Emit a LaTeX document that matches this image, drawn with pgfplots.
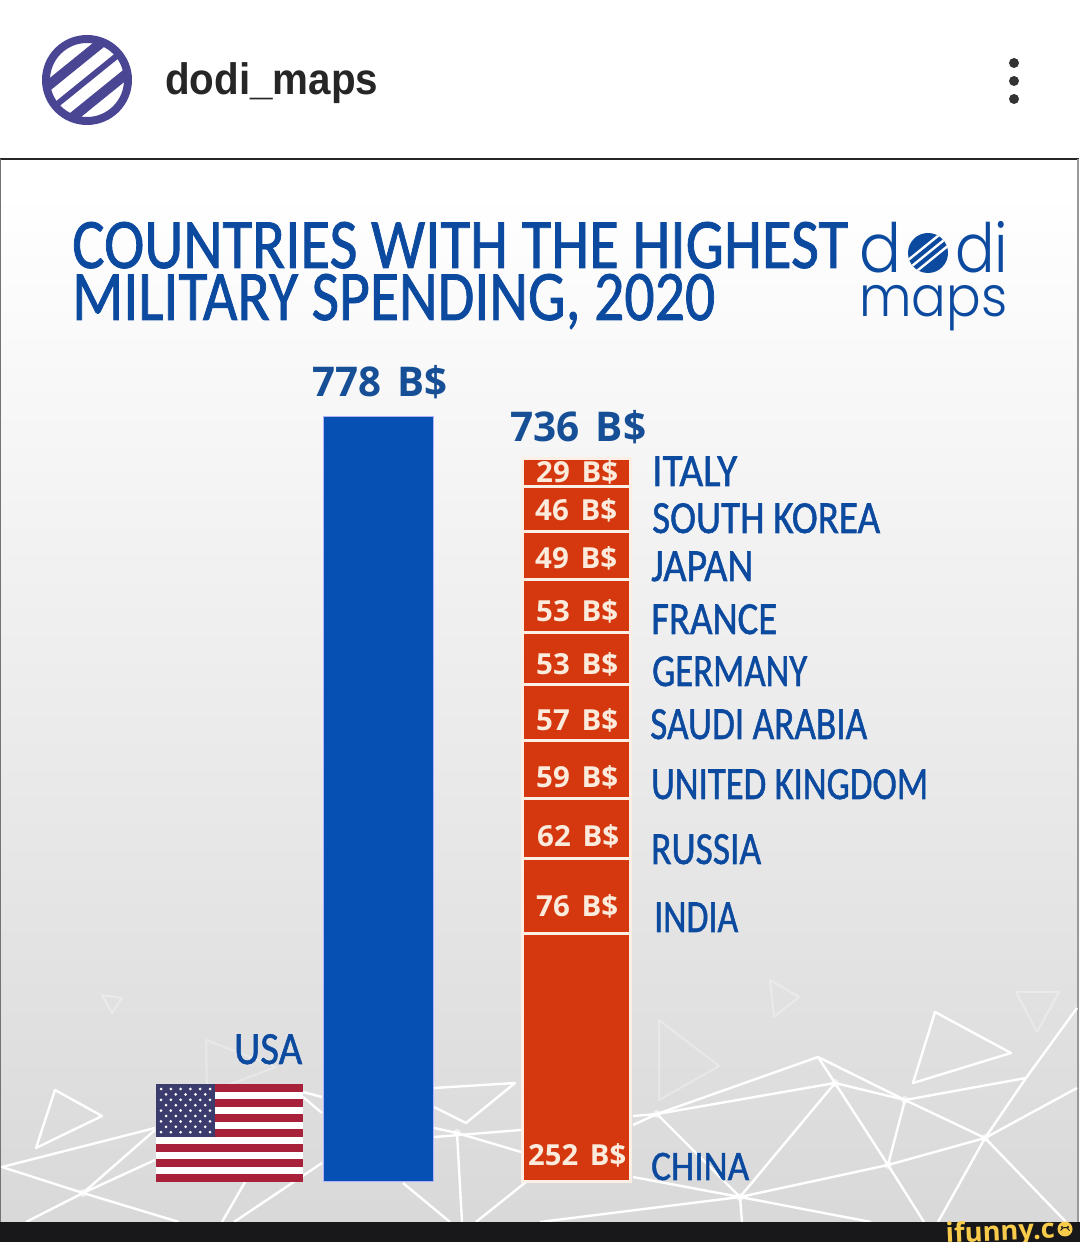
\documentclass[border=0pt]{standalone}
\usepackage{fontspec}
\usepackage{graphicx}
\usepackage{pgfplots}
\pgfplotsset{compat=1.18}
\usetikzlibrary{calc}
\setmainfont[RawFeature={embolden=1.2}]{Carlito}
\newfontfamily\valfont{Open Sans}
\newfontfamily\headfont{Liberation Sans}
\newfontfamily\logofont{Poppins Light}

\definecolor{bluebar}{HTML}{0550B2}
\definecolor{redbar}{HTML}{D5380E}
\definecolor{titleblue}{HTML}{0C4A9F}
\definecolor{valblue}{HTML}{174F96}
\definecolor{seglabel}{HTML}{FBEBDD}
\definecolor{segline}{HTML}{FBEFE6}
\definecolor{purple}{HTML}{4A4694}
\definecolor{flagred}{HTML}{A8213A}
\definecolor{flagblue}{HTML}{3C3B6E}
\definecolor{ifyellow}{HTML}{F8CB4A}
\definecolor{barblack}{HTML}{18181A}

\pgfplotsset{segbar/.style={fill=redbar,draw=segline,line width=3pt}}

% squeeze text to a width measured on the reference, height untouched
\newsavebox\fitbox
\newcommand{\fitw}[2]{\sbox\fitbox{#2}\pgfmathsetmacro\fitr{#1/\the\wd\fitbox}\scalebox{\fitr}[1]{\usebox\fitbox}}
\newcommand{\lab}[5]{\node[anchor=base west,inner sep=0pt,text=#4] at (#1,#2) {\fitw{#3}{#5}};}
\newcommand{\country}[4]{\lab{#1}{#2}{#3}{titleblue}{\fontsize{46}{50}\selectfont #4}}
\newcommand{\seg}[3]{\lab{#1}{#2}{82}{seglabel}{\valfont\bfseries\fontsize{29}{32}\selectfont #3\hspace{.4em}B\$}}

\begin{document}
\begin{tikzpicture}[x=1pt,y=1pt]
\clip (0,0) rectangle (1080,1242);
\begin{scope}[y=-1pt,yshift=1242pt]
\fill[white] (0,0) rectangle (1080,1242);
% panel
\shade[top color=white,bottom color=black!15] (0,190) rectangle (1079,1222);
\draw[black!85,line width=2pt] (0,159) -- (1079,159);
\draw[black!55,line width=1.5pt] (0.7,159) -- (0.7,1222);
\draw[black!40,line width=1.5pt] (1078,159) -- (1078,1222);
% network lines
\begin{scope}[white,line width=2.4pt,line join=round]
\draw (55,1090) -- (102,1116) -- (36,1148) -- cycle;
\draw (155,1128) -- (2,1167) -- (83,1193) -- (179,1222);
\draw (26,1222) -- (83,1193) -- (155,1160);
\draw (83,1193) -- (155,1130);
\draw (222,1222) -- (245,1182);
\draw (234,1222) -- (322,1163);
\draw (303,1092) -- (322,1097);
\draw (303,1097) -- (322,1113);
\draw (403,1183) -- (450,1222);
\draw (434,1088) -- (515,1083) -- (466,1123) -- (434,1107);
\draw (434,1128) -- (457,1133) -- (521,1152);
\draw (434,1137) -- (521,1130);
\draw (457,1133) -- (462,1222);
\draw (476,1222) -- (526,1182);
\draw (633,1116) -- (657,1114) -- (835,1083);
\draw (633,1125) -- (657,1114) -- (818,1057);
\draw (657,1114) -- (740,1197);
\draw (633,1177) -- (740,1197);
\draw (540,1222) -- (740,1197) -- (742,1222);
\draw (740,1197) -- (871,1222);
\draw (740,1197) -- (888,1165) -- (985,1138);
\draw (740,1197) -- (835,1083);
\draw (818,1057) -- (835,1083) -- (888,1165) -- (924,1222);
\draw (818,1057) -- (905,1100);
\draw (835,1083) -- (905,1100);
\draw (905,1100) -- (888,1165);
\draw (905,1100) -- (985,1138);
\draw (905,1100) -- (1026,1078);
\draw (985,1138) -- (1026,1078) -- (1077,1008);
\draw (985,1138) -- (1077,1088);
\draw (985,1138) -- (938,1222);
\draw (985,1138) -- (1066,1222);
\draw (935,1012) -- (1011,1053) -- (913,1083) -- cycle;
\foreach \p in {(83,1193),(457,1133),(657,1114),(740,1197),(888,1165),(905,1100),(985,1138),(835,1083)}
  \fill[opacity=.6] \p circle (4);
\end{scope}
\begin{scope}[white,opacity=.3,line width=2pt,line join=round]
\draw (206,1040) -- (276,1067) -- (207,1093) -- cycle;
\draw (102,995) -- (122,998) -- (112,1013) -- cycle;
\draw (659,1020) -- (719,1066) -- (659,1100) -- cycle;
\draw (770,980) -- (799,997) -- (774,1017) -- cycle;
\draw (1016,992) -- (1059,992) -- (1037,1032) -- cycle;
\end{scope}
% bottom bar
\fill[barblack] (0,1222) rectangle (1080,1242);
\end{scope}

% USA bar
\begin{axis}[
at={(0pt,0pt)},anchor=south west,
width=1080pt,height=1242pt,scale only axis,
xmin=0,xmax=1080,ymin=-62.1,ymax=1202.6,
hide axis,
ybar,bar width=110pt,
]
\addplot[fill=bluebar,draw=blue!30!white,line width=1pt] coordinates {(378.5,778)};
\end{axis}

% everyone else, stacked
\begin{axis}[
at={(0pt,0pt)},anchor=south west,
width=1080pt,height=1242pt,scale only axis,
xmin=0,xmax=1080,ymin=-62.1,ymax=1202.6,
hide axis,
ybar stacked,bar width=108pt,
]
\addplot[segbar] coordinates {(576.5,252)}; % China
\addplot[segbar] coordinates {(576.5,76)};  % India
\addplot[segbar] coordinates {(576.5,62)};  % Russia
\addplot[segbar] coordinates {(576.5,59)};  % United Kingdom
\addplot[segbar] coordinates {(576.5,57)};  % Saudi Arabia
\addplot[segbar] coordinates {(576.5,53)};  % Germany
\addplot[segbar] coordinates {(576.5,53)};  % France
\addplot[segbar] coordinates {(576.5,49)};  % Japan
\addplot[segbar] coordinates {(576.5,46)};  % South Korea
\addplot[segbar] coordinates {(576.5,29)};  % Italy
\end{axis}

\begin{scope}[y=-1pt,yshift=1242pt]
% header
\fill[white] (87,80) circle (45);
\draw[purple,line width=8pt] (87,80) circle (41);
\begin{scope}
\clip (87,80) circle (41);
\draw[purple,line width=10pt] (35.57,95.91) -- (113.27,33.01);
\draw[purple,line width=6pt] (48.15,111.45) -- (125.85,48.55);
\draw[purple,line width=10pt] (60.73,127) -- (138.43,64.09);
\end{scope}
\lab{165}{95}{213}{black!85}{\headfont\bfseries\fontsize{44}{46}\selectfont dodi\_maps}
\foreach \yy in {63,81,99} \fill[black!80] (1014,\yy) circle (5);

% title
\lab{72}{268}{776}{titleblue}{\fontsize{71}{75}\selectfont COUNTRIES WITH THE HIGHEST}
\lab{72}{320}{643}{titleblue}{\fontsize{71}{75}\selectfont MILITARY SPENDING, 2020}

% brand mark
\lab{859}{273}{42}{titleblue}{\logofont\fontsize{68}{70}\selectfont d}
\fill[titleblue] (928,253) circle (20);
\begin{scope}
\clip (928,253) circle (20);
\foreach \dd in {-7,0,7}
  \draw[white,line width=2.4pt] ($(928,253)+\dd*(.629,.777)+(-23.3,18.9)$) -- ($(928,253)+\dd*(.629,.777)+(23.3,-18.9)$);
\end{scope}
\lab{955}{273}{53}{titleblue}{\logofont\fontsize{68}{70}\selectfont di}
\lab{859}{317}{148}{titleblue}{\logofont\fontsize{56}{60}\selectfont maps}

% totals
\lab{312}{397}{135}{valblue}{\valfont\bfseries\fontsize{41}{44}\selectfont 778\hspace{.4em}B\$}
\lab{510}{442}{136}{valblue}{\valfont\bfseries\fontsize{41}{44}\selectfont 736\hspace{.4em}B\$}

% segment values
\seg{536}{483}{29}
\seg{535}{521}{46}
\seg{535}{569}{49}
\seg{536}{622}{53}
\seg{536}{675}{53}
\seg{536}{731}{57}
\seg{536}{788}{59}
\seg{537}{847}{62}
\seg{536}{917}{76}
\lab{528}{1166}{98}{seglabel}{\valfont\bfseries\fontsize{29}{32}\selectfont 252\hspace{.4em}B\$}

% country names
\country{652}{486}{85}{ITALY}
\country{652}{533}{228}{SOUTH KOREA}
\country{651}{581}{102}{JAPAN}
\country{651}{634}{126}{FRANCE}
\country{652}{686}{155}{GERMANY}
\country{650}{739}{217}{SAUDI ARABIA}
\country{651}{799}{277}{UNITED KINGDOM}
\country{651}{864}{110}{RUSSIA}
\country{654}{932}{84}{INDIA}
\lab{651}{1180}{98}{titleblue}{\fontsize{42}{44}\selectfont CHINA}
\lab{234}{1064}{68}{titleblue}{\fontsize{46}{50}\selectfont USA}

% flag
\fill[white] (156,1084) rectangle (303,1182);
\foreach \i in {0,2,...,12}
  \fill[flagred] (156,{1084+\i*98/13}) rectangle (303,{1084+(\i+1)*98/13});
\fill[flagblue] (156,1084) rectangle (215,{1084+7*98/13});
\foreach \r in {0,...,8} {
  \pgfmathtruncatemacro\odd{mod(\r,2)}
  \ifnum\odd=0
    \foreach \c in {0,...,5} \fill[white] ({161+\c*9.8},{1089+\r*5.4}) circle (1.5);
  \else
    \foreach \c in {0,...,4} \fill[white] ({166+\c*9.8},{1089+\r*5.4}) circle (1.5);
  \fi
}

% watermark
\node[anchor=base west,inner sep=0pt,text=ifyellow,rotate=2.5] at (946,1243)
  {\fitw{109}{\valfont\bfseries\fontsize{27}{30}\selectfont ifunny.c}};
\fill[ifyellow] (1065,1229) circle (7.5);
\fill[barblack] (1062,1227) circle (1.1) (1068,1227) circle (1.1);
\draw[barblack,line width=1pt] (1060.5,1230.5) arc (200:340:4.8);
\end{scope}
\end{tikzpicture}
\end{document}
